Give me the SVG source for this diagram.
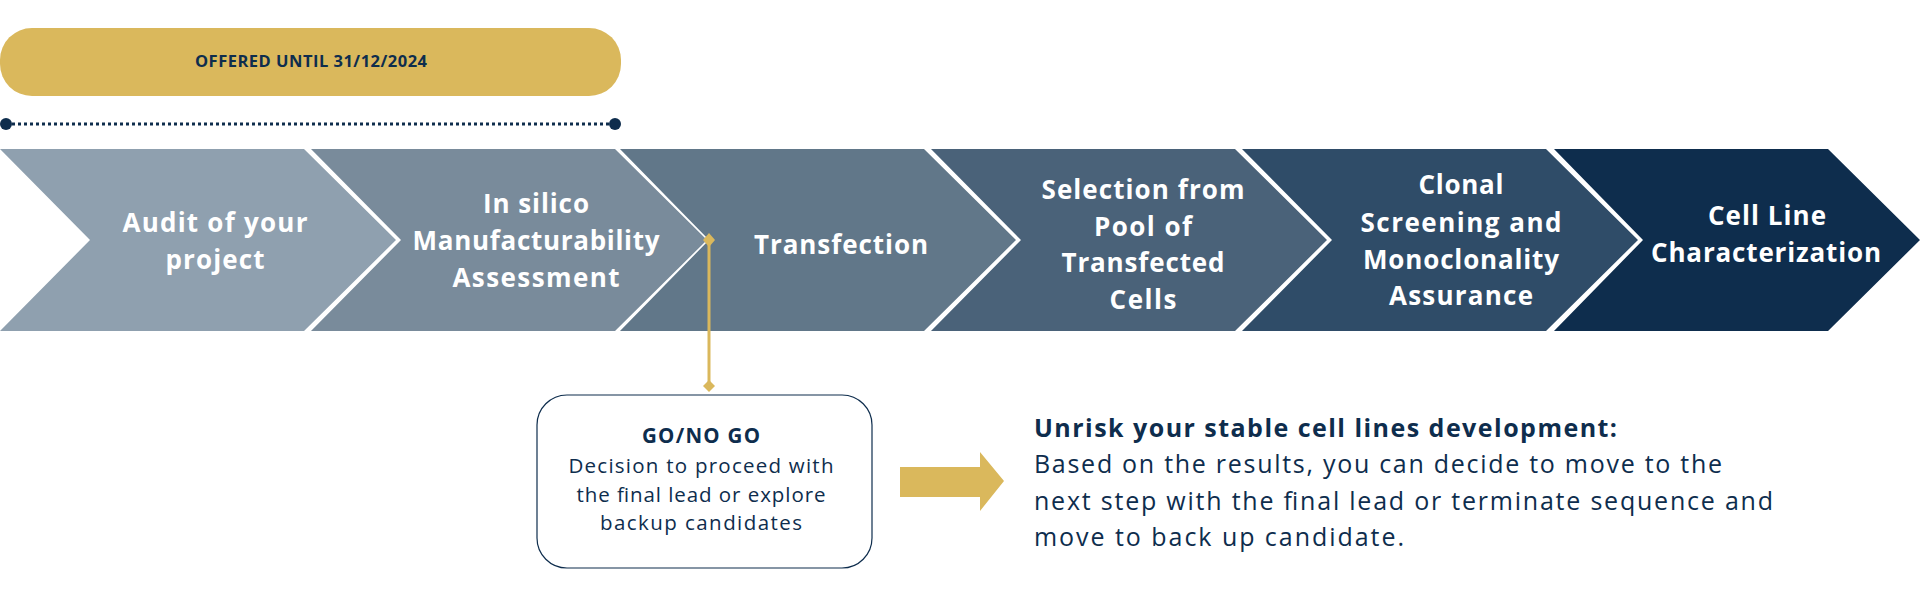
<svg xmlns="http://www.w3.org/2000/svg" width="1920" height="600" viewBox="0 0 1920 600">
<style>
.ct{font-family:"Open Sans","Liberation Sans",sans-serif;font-weight:700;font-size:26px;fill:#ffffff;text-anchor:middle}
.navy{fill:#0e2d4d}
.gold{fill:#dab85c}
.bt{font-family:"Open Sans","Liberation Sans",sans-serif;font-size:20.5px;fill:#0e2d4d;text-anchor:middle}
.rt{font-family:"Open Sans","Liberation Sans",sans-serif;font-size:25px;fill:#0e2d4d}
</style>
<rect width="1920" height="600" fill="#ffffff"/>
<g id="offer">
<rect x="0" y="28" width="621" height="68" rx="32" class="gold"/>
<text x="311" y="67" font-family="Open Sans, Liberation Sans, sans-serif" font-weight="700" font-size="16.5" fill="#0e2d4d" text-anchor="middle" textLength="232" lengthAdjust="spacing">OFFERED UNTIL 31/12/2024</text>
</g>
<g id="timeline">
<line x1="6" y1="124" x2="615" y2="124" stroke="#0e2d4d" stroke-width="3" stroke-dasharray="3 3"/>
<circle cx="6" cy="124" r="6" class="navy"/>
<circle cx="615" cy="124" r="6" class="navy"/>
</g>
<g id="step1">
<polygon points="0,149 304,149 396,240 304,331 0,331 90,240" fill="#8fa0af"/>
<text class="ct" x="215" y="232" textLength="185" lengthAdjust="spacing">Audit of your</text>
<text class="ct" x="215" y="269" textLength="99" lengthAdjust="spacing">project</text>
</g>
<g id="step2">
<polygon points="311,149 615,149 707,240 615,331 311,331 401,240" fill="#798b9b"/>
<text class="ct" x="536" y="213" textLength="106" lengthAdjust="spacing">In silico</text>
<text class="ct" x="536" y="250" textLength="247" lengthAdjust="spacing">Manufacturability</text>
<text class="ct" x="536" y="287" textLength="167" lengthAdjust="spacing">Assessment</text>
</g>
<g id="step3">
<polygon points="620,149 924,149 1016,240 924,331 620,331 709,240" fill="#617789"/>
<text class="ct" x="841" y="254" textLength="174" lengthAdjust="spacing">Transfection</text>
</g>
<g id="step4">
<polygon points="931,149 1235,149 1327,240 1235,331 931,331 1021,240" fill="#4a6279"/>
<text class="ct" x="1143" y="199" textLength="203" lengthAdjust="spacing">Selection from</text>
<text class="ct" x="1143" y="236" textLength="98" lengthAdjust="spacing">Pool of</text>
<text class="ct" x="1143" y="272" textLength="163" lengthAdjust="spacing">Transfected</text>
<text class="ct" x="1143" y="309" textLength="67" lengthAdjust="spacing">Cells</text>
</g>
<g id="step5">
<polygon points="1242,149 1546,149 1638,240 1546,331 1242,331 1332,240" fill="#2f4c68"/>
<text class="ct" x="1461" y="194" textLength="85" lengthAdjust="spacing">Clonal</text>
<text class="ct" x="1461" y="232" textLength="201" lengthAdjust="spacing">Screening and</text>
<text class="ct" x="1461" y="269" textLength="196" lengthAdjust="spacing">Monoclonality</text>
<text class="ct" x="1461" y="305" textLength="144" lengthAdjust="spacing">Assurance</text>
</g>
<g id="step6">
<polygon points="1554,149 1828,149 1920,240 1828,331 1554,331 1643,240" fill="#0e2d4d"/>
<text class="ct" x="1767" y="225" textLength="118" lengthAdjust="spacing">Cell Line</text>
<text class="ct" x="1766" y="262" textLength="230" lengthAdjust="spacing">Characterization</text>
</g>
<g id="connectors">
<line x1="709" y1="240" x2="709" y2="386" stroke="#dab85c" stroke-width="3"/>
<polygon points="709,233 715,240 709,247 703,240" class="gold"/>
<polygon points="709,380 715,386 709,392 703,386" class="gold"/>
<polygon points="900,467 980,467 980,452 1004,481 980,511 980,497 900,497" class="gold"/>
</g>
<g id="gonogo">
<rect x="537" y="395" width="335" height="173" rx="30" fill="#ffffff" stroke="#0e2d4d" stroke-width="1.2"/>
<text class="bt" x="701" y="443" font-weight="700" textLength="118" lengthAdjust="spacing">GO/NO GO</text>
<text class="bt" x="701" y="473" textLength="265" lengthAdjust="spacing">Decision to proceed with</text>
<text class="bt" x="701" y="502" textLength="249" lengthAdjust="spacing">the final lead or explore</text>
<text class="bt" x="701" y="530" textLength="202" lengthAdjust="spacing">backup candidates</text>
</g>
<g id="summary">
<text class="rt" x="1034" y="437" font-weight="700" textLength="583" lengthAdjust="spacing">Unrisk your stable cell lines development:</text>
<text class="rt" x="1034" y="473" textLength="688" lengthAdjust="spacing">Based on the results, you can decide to move to the</text>
<text class="rt" x="1034" y="510" textLength="739" lengthAdjust="spacing">next step with the final lead or terminate sequence and</text>
<text class="rt" x="1034" y="546" textLength="370" lengthAdjust="spacing">move to back up candidate.</text>
</g>
</svg>
